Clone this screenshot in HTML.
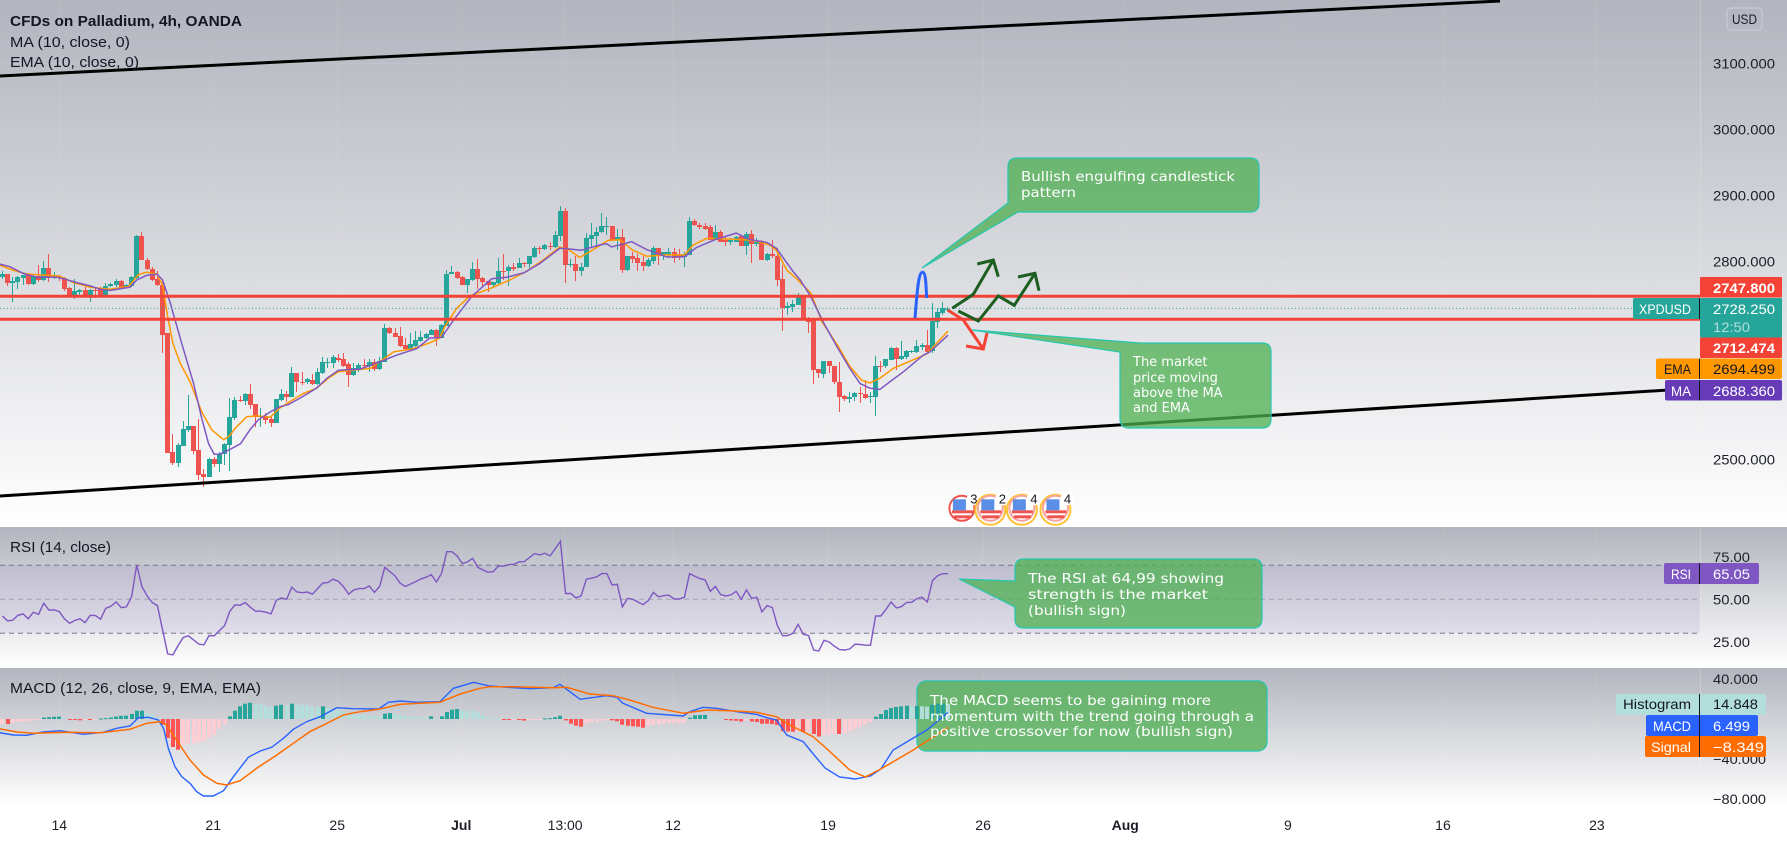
<!DOCTYPE html>
<html>
<head>
<meta charset="utf-8">
<title>CFDs on Palladium, 4h, OANDA</title>
<style>
html,body{margin:0;padding:0;background:#fff;width:1787px;height:843px;overflow:hidden}
svg{display:block}
.leg{font-family:"Liberation Sans",sans-serif;font-size:14.5px;fill:#131722}
.ax{font-family:"Liberation Sans",sans-serif;font-size:14px;fill:#1c1f28}
.lb{font-family:"Liberation Sans",sans-serif;font-size:14px;fill:#fff}
.note{font-family:"DejaVu Sans",sans-serif;font-size:13px;fill:#fff}
</style>
</head>
<body>
<svg id="chart" xmlns="http://www.w3.org/2000/svg" width="1787" height="843" viewBox="0 0 1787 843">
<defs>
<linearGradient id="paneGrad" x1="0" y1="0" x2="0" y2="1"><stop offset="0" stop-color="#b2b5be"/><stop offset="1" stop-color="#ffffff"/></linearGradient>
<clipPath id="mainClip"><rect x="0" y="0" width="1700" height="527"/></clipPath>
<clipPath id="rsiClip"><rect x="0" y="527" width="1700" height="141"/></clipPath>
<clipPath id="macdClip"><rect x="0" y="668" width="1700" height="138"/></clipPath>
</defs>

<rect x="0" y="0" width="1787" height="843" fill="#fff"/>
<rect x="0" y="0" width="1787" height="527" fill="url(#paneGrad)"/>
<rect x="0" y="527" width="1787" height="141" fill="url(#paneGrad)"/>
<rect x="0" y="668" width="1787" height="138" fill="url(#paneGrad)"/>
<line x1="1700.5" y1="0" x2="1700.5" y2="806" stroke="#fff" stroke-opacity="0.2"/>

<g id="grid"></g>

<rect x="0" y="565.3" width="1700" height="68" fill="#7e57c2" fill-opacity="0.1"/>
<line x1="0" y1="565.3" x2="1700" y2="565.3" stroke="#787b86" stroke-dasharray="5 4"/>
<line x1="0" y1="599.3" x2="1700" y2="599.3" stroke="#787b86" stroke-opacity="0.5" stroke-dasharray="5 4"/>
<line x1="0" y1="633.3" x2="1700" y2="633.3" stroke="#787b86" stroke-dasharray="5 4"/>

<g id="priceLayer" clip-path="url(#mainClip)"></g>
<g id="rsiLayer" clip-path="url(#rsiClip)"></g>

<line x1="0" y1="308.4" x2="1633" y2="308.4" stroke="#26a69a" stroke-dasharray="1 2.5"/>
<line x1="0" y1="296.3" x2="1700" y2="296.3" stroke="#f44336" stroke-width="3"/>
<line x1="0" y1="319.3" x2="1700" y2="319.3" stroke="#f44336" stroke-width="3"/>
<line x1="0" y1="76" x2="1500" y2="1" stroke="#000" stroke-width="3"/>
<line x1="0" y1="496" x2="1700" y2="388" stroke="#000" stroke-width="3"/>

<path d="M915,318 C917,295 918,272 922.7,272.3 C926,272.5 926,287 926.7,298" fill="none" stroke="#2962ff" stroke-width="3"/>
<g fill="none" stroke="#1b5e20" stroke-width="3">
<polyline points="952.3,308.3 973.3,294.3 993.3,260"/>
<polyline points="977.3,264 993.3,260 998.3,276.7"/>
</g>
<g fill="none" stroke="#1b5e20" stroke-width="3">
<polyline points="958.3,311 978.3,321 998.3,296 1014.3,305.3 1035,273.3"/>
<polyline points="1018,277 1035,273.3 1039,290.7"/>
</g>
<g fill="none" stroke="#f44336" stroke-width="3">
<polyline points="947.7,310 963.3,320 983.3,349"/>
<polyline points="966,346 983.3,349 987.3,331.7"/>
</g>

<g>
<path d="M1017,158 H1250 Q1259,158 1259,167 V203 Q1259,212 1250,212 H1018 L922,268 L1008,203 V167 Q1008,158 1017,158 Z" fill="#4caf50" fill-opacity="0.75" stroke="#26c6b0" stroke-width="1.2"/>
<text class="note" x="1021" y="181" textLength="214" lengthAdjust="spacingAndGlyphs">Bullish engulfing candlestick</text>
<text class="note" x="1021" y="197" textLength="55" lengthAdjust="spacingAndGlyphs">pattern</text>
</g>
<g>
<path d="M1140,343 H1262 Q1271,343 1271,352 V419 Q1271,428 1262,428 H1129 Q1120,428 1120,419 V352 L972,330 Z" fill="#4caf50" fill-opacity="0.75" stroke="#26c6b0" stroke-width="1.2"/>
<text class="note" x="1133" y="366">The market</text>
<text class="note" x="1133" y="382">price moving</text>
<text class="note" x="1133" y="397">above the MA</text>
<text class="note" x="1133" y="412">and EMA</text>
</g>
<g>
<path d="M1024,559 H1253 Q1262,559 1262,568 V619 Q1262,628 1253,628 H1024 Q1015,628 1015,619 V607 L959,579 L1015,581 V568 Q1015,559 1024,559 Z" fill="#4caf50" fill-opacity="0.75" stroke="#26c6b0" stroke-width="1.2"/>
<text class="note" x="1028" y="583" textLength="196" lengthAdjust="spacingAndGlyphs">The RSI at 64,99 showing</text>
<text class="note" x="1028" y="599" textLength="180" lengthAdjust="spacingAndGlyphs">strength is the market</text>
<text class="note" x="1028" y="615" textLength="98" lengthAdjust="spacingAndGlyphs">(bullish sign)</text>
</g>
<rect x="917" y="681" width="350" height="70" rx="9" fill="#4caf50" fill-opacity="0.75" stroke="#26c6b0" stroke-width="1.2"/>

<g id="macdLayer" clip-path="url(#macdClip)"></g>

<g>
<text class="note" x="930" y="705" textLength="281" lengthAdjust="spacingAndGlyphs">The MACD seems to be gaining more</text>
<text class="note" x="930" y="721" textLength="324" lengthAdjust="spacingAndGlyphs">momentum with the trend going through a</text>
<text class="note" x="930" y="736" textLength="303" lengthAdjust="spacingAndGlyphs">positive crossover for now (bullish sign)</text>
</g>

<g id="events"></g>

<g>
<text class="leg" x="10" y="26" font-weight="700" textLength="232" lengthAdjust="spacingAndGlyphs">CFDs on Palladium, 4h, OANDA</text>
<text class="leg" x="10" y="47" textLength="120" lengthAdjust="spacingAndGlyphs">MA (10, close, 0)</text>
<text class="leg" x="10" y="67" textLength="129" lengthAdjust="spacingAndGlyphs">EMA (10, close, 0)</text>
<text class="leg" x="10" y="552" textLength="101" lengthAdjust="spacingAndGlyphs">RSI (14, close)</text>
<text class="leg" x="10" y="693" textLength="251" lengthAdjust="spacingAndGlyphs">MACD (12, 26, close, 9, EMA, EMA)</text>
</g>

<g>
<rect x="1727" y="8" width="35" height="22" rx="4" fill="none" stroke="#c8ccd4" stroke-width="1.2"/>
<text class="ax" x="1732" y="24" textLength="25" lengthAdjust="spacingAndGlyphs" fill="#2a2e39">USD</text>
</g>

<g id="axes"></g>

<g>
<rect x="1700" y="277" width="82" height="20.5" rx="1" fill="#f44336"/>
<text class="lb" x="1713" y="293" textLength="62" lengthAdjust="spacingAndGlyphs" font-weight="700">2747.800</text>
</g>
<g>
<rect x="1633" y="298" width="67" height="21" rx="2" fill="#26a69a"/>
<rect x="1700" y="298" width="82" height="39.5" rx="1" fill="#26a69a"/>
<text class="lb" x="1639" y="314" textLength="52" lengthAdjust="spacingAndGlyphs">XPDUSD</text>
<text class="lb" x="1713" y="314" textLength="62" lengthAdjust="spacingAndGlyphs">2728.250</text>
<text class="lb" x="1713" y="332" textLength="37" lengthAdjust="spacingAndGlyphs" style="fill:#b2dfdb">12:50</text>
<line x1="1699.5" y1="298" x2="1699.5" y2="319" stroke="#131722"/>
</g>
<g>
<rect x="1700" y="337.5" width="82" height="20.5" rx="1" fill="#f44336"/>
<text class="lb" x="1713" y="353" textLength="62" lengthAdjust="spacingAndGlyphs" font-weight="700">2712.474</text>
</g>
<g>
<rect x="1656" y="358.5" width="126" height="20.5" rx="2" fill="#ff9800"/>
<text class="lb" x="1664" y="374" textLength="27" lengthAdjust="spacingAndGlyphs" style="fill:#131722">EMA</text>
<text class="lb" x="1713" y="374" textLength="62" lengthAdjust="spacingAndGlyphs" style="fill:#131722">2694.499</text>
<line x1="1699.5" y1="358.5" x2="1699.5" y2="379" stroke="#131722"/>
</g>
<g>
<rect x="1665" y="380" width="117" height="20.5" rx="2" fill="#673ab7"/>
<text class="lb" x="1671" y="396" textLength="20" lengthAdjust="spacingAndGlyphs">MA</text>
<text class="lb" x="1713" y="396" textLength="62" lengthAdjust="spacingAndGlyphs">2688.360</text>
<line x1="1699.5" y1="380" x2="1699.5" y2="400.5" stroke="#131722"/>
</g>
<g>
<rect x="1664" y="563" width="95" height="21" rx="2" fill="#7e57c2"/>
<text class="lb" x="1671" y="579" textLength="20" lengthAdjust="spacingAndGlyphs">RSI</text>
<text class="lb" x="1713" y="579" textLength="37" lengthAdjust="spacingAndGlyphs">65.05</text>
<line x1="1699.5" y1="563" x2="1699.5" y2="584" stroke="#131722"/>
</g>
<g>
<rect x="1616" y="694" width="150" height="21" rx="2" fill="#b2dfdb"/>
<text class="lb" x="1623" y="709" textLength="68" lengthAdjust="spacingAndGlyphs" style="fill:#131722">Histogram</text>
<text class="lb" x="1713" y="709" textLength="45" lengthAdjust="spacingAndGlyphs" style="fill:#131722">14.848</text>
<line x1="1699.5" y1="694" x2="1699.5" y2="715" stroke="#131722"/>
</g>
<g>
<rect x="1646" y="715" width="112" height="21" rx="2" fill="#2962ff"/>
<text class="lb" x="1653" y="731" textLength="38" lengthAdjust="spacingAndGlyphs">MACD</text>
<text class="lb" x="1713" y="731" textLength="37" lengthAdjust="spacingAndGlyphs">6.499</text>
<line x1="1699.5" y1="715" x2="1699.5" y2="736" stroke="#131722"/>
</g>
<g>
<rect x="1645" y="736" width="121" height="21" rx="2" fill="#ff6d00"/>
<text class="lb" x="1651" y="752" textLength="40" lengthAdjust="spacingAndGlyphs">Signal</text>
<text class="lb" x="1713" y="752" textLength="51" lengthAdjust="spacingAndGlyphs">−8.349</text>
<line x1="1699.5" y1="736" x2="1699.5" y2="757" stroke="#131722"/>
</g>
</svg>

<script>
/* candle data, one entry per 4h bar */
var opens = [
2777,2781,2768,2769,2775,2779,2766,2778,2772,2790,
2775,2778,2775,2760,2749,2754,2757,2748,2757,2758,
2749,2763,2764,2770,2762,2763,2775,2839,2803,2789,
2773,2764,2691,2511,2495,2521,2545,2551,2514,2478,
2473,2501,2493,2508,2522,2563,2590,2588,2599,2584,
2564,2566,2562,2555,2590,2599,2595,2631,2618,2618,
2621,2614,2631,2646,2646,2654,2652,2644,2628,2637,
2643,2641,2647,2637,2648,2699,2691,2687,2673,2667,
2672,2680,2684,2689,2696,2684,2703,2781,2784,2776,
2765,2772,2789,2775,2770,2764,2768,2786,2785,2792,
2790,2798,2796,2807,2820,2819,2823,2822,2839,2876,
2795,2796,2786,2791,2834,2839,2844,2853,2854,2833,
2837,2787,2808,2805,2799,2793,2801,2820,2810,2812,
2814,2810,2807,2810,2861,2856,2854,2852,2833,2845,
2832,2830,2830,2838,2823,2841,2827,2829,2802,2812,
2809,2773,2730,2731,2734,2749,2715,2713,2637,2630,
2649,2642,2618,2596,2591,2594,2601,2599,2594,2595,
2642,2641,2651,2669,2653,2655,2663,2663,2671,2674,
2664,2709,2722,2727.5];
var highs = [
2785,2781,2776,2778,2780,2782,2779,2795,2801,2811,
2784,2779,2777,2762,2774,2759,2762,2758,2761,2762,
2768,2768,2773,2772,2766,2778,2840,2845,2805,2791,
2785,2769,2691,2539,2525,2559,2598,2551,2562,2485,
2503,2504,2512,2525,2593,2595,2596,2601,2614,2584,
2578,2570,2565,2591,2607,2604,2640,2631,2633,2624,
2630,2639,2656,2654,2658,2660,2661,2648,2646,2646,
2652,2653,2653,2655,2705,2701,2699,2701,2684,2692,
2695,2695,2692,2697,2697,2705,2787,2793,2786,2778,
2773,2799,2804,2776,2770,2769,2805,2812,2795,2798,
2806,2799,2808,2823,2824,2826,2830,2846,2884,2881,
2804,2808,2797,2843,2858,2853,2874,2868,2854,2850,
2849,2808,2814,2812,2808,2805,2824,2820,2815,2820,
2820,2819,2815,2867,2865,2858,2858,2855,2856,2847,
2838,2835,2839,2839,2844,2847,2836,2833,2813,2832,
2820,2795,2739,2742,2753,2749,2716,2713,2637,2649,
2649,2642,2647,2597,2603,2603,2610,2620,2603,2657,
2650,2653,2671,2671,2680,2666,2666,2681,2676,2696,
2737,2729,2738,2731];
var lows = [
2774,2763,2738,2759,2764,2764,2764,2769,2771,2769,
2773,2771,2756,2746,2743,2747,2746,2739,2744,2746,
2749,2761,2762,2759,2760,2762,2774,2802,2787,2771,
2763,2662,2510,2492,2489,2521,2541,2509,2469,2459,
2473,2488,2481,2492,2483,2560,2587,2582,2576,2550,
2550,2554,2549,2555,2589,2587,2594,2603,2613,2615,
2613,2613,2630,2638,2638,2648,2640,2610,2627,2633,
2638,2633,2634,2635,2648,2690,2685,2671,2666,2665,
2671,2678,2683,2688,2672,2684,2703,2781,2774,2764,
2753,2771,2759,2761,2754,2761,2764,2772,2763,2786,
2790,2792,2790,2806,2812,2818,2817,2821,2831,2768,
2791,2771,2778,2791,2822,2821,2843,2840,2832,2817,
2782,2785,2797,2786,2786,2792,2796,2795,2802,2805,
2798,2802,2792,2810,2854,2849,2848,2832,2832,2830,
2824,2825,2829,2823,2810,2798,2823,2802,2801,2805,
2763,2695,2719,2724,2734,2713,2691,2614,2623,2623,
2631,2615,2572,2589,2586,2588,2585,2591,2585,2566,
2633,2638,2651,2636,2651,2652,2662,2662,2666,2661,
2661,2699,2719,2725];
var closes = [
2781,2768,2770,2776,2779,2766,2778,2772,2790,2776,
2778,2775,2759,2749,2755,2757,2748,2757,2756,2749,
2763,2766,2770,2762,2764,2776,2839,2802,2788,2772,
2764,2688,2510,2494,2522,2546,2551,2513,2476,2473,
2501,2493,2509,2523,2564,2590,2588,2599,2583,2565,
2566,2560,2555,2591,2599,2594,2631,2618,2617,2622,
2614,2632,2647,2648,2656,2651,2642,2628,2639,2643,
2642,2647,2637,2649,2699,2691,2686,2672,2667,2675,
2681,2685,2690,2696,2684,2704,2781,2784,2775,2765,
2773,2789,2774,2769,2764,2769,2786,2784,2792,2789,
2798,2796,2808,2820,2819,2825,2822,2840,2876,2795,
2796,2786,2792,2835,2840,2845,2854,2854,2833,2837,
2787,2808,2804,2798,2793,2802,2820,2809,2814,2814,
2806,2807,2811,2861,2855,2852,2850,2833,2845,2830,
2830,2833,2837,2823,2841,2826,2829,2802,2812,2808,
2772,2730,2733,2735,2749,2713,2709,2636,2631,2649,
2641,2618,2595,2591,2595,2601,2599,2593,2596,2642,
2640,2652,2669,2653,2657,2664,2665,2672,2674,2663,
2710,2723,2729,2728.25];

/* moving averages: bar number and value at each visible line vertex */
var maBars = [-1,1.5,4,6.6,10.5,11.8,14.4,17,18.9,20.8,24.7,26,27.9,29.9,31,32.5,34.7,37,38.6,39.9,41,42.1,44,46.1,47.9,49.5,51.8,53.7,55.3,57.6,60.8,62.8,65,66.6,69.2,72.4,76.3,80.2,82.7,85,87.3,90.8,94.7,97.6,101,104,107.9,109.8,112,115.6,116.9,117.9,121.8,124.7,128.5,132,134.3,137.9,142,144.7,147.9,149.8,153,154.4,156.3,159,161.5,164,166,167.9,169.8,171.8,174.4,178.2,179.5,183];
var maValues = [2797,2792,2782,2776,2776,2774,2768,2763,2758,2756,2761,2772,2779,2781,2772,2737,2676,2615,2562,2524,2508,2508,2515,2524,2545,2560,2572,2580,2583,2593,2608,2623,2635,2636,2637,2646,2658,2668,2684,2685,2711,2747,2774,2776,2783,2797,2820,2819,2817,2825,2827,2822,2830,2818,2807,2807,2821,2833,2843,2833,2829,2820,2785,2772,2749,2706,2671,2638,2615,2608,2606,2618,2633,2658,2663,2688.36];
var emaBars = [-1,2,4.7,11,13.7,17,20.8,24.4,26.3,27.9,29.9,31,32,33,34.4,36.3,38.6,40.5,42.8,44,45,47.3,49.5,51.8,53.7,55.7,58.2,60.8,63.1,65,67.3,71.2,75.7,79.5,82.8,84.6,85.6,87.9,90.5,94.4,98.2,101.4,104.6,107.9,109.8,111.7,113.7,117.2,119.5,122,124.7,128.5,132,133.7,136.3,141.4,145.3,148.5,149.8,151.8,153.7,156.5,158.6,161.8,164,166.3,167.9,169.8,172.4,176.3,178.9,180.8,183];
var emaValues = [2796,2787,2781,2778,2768,2761,2758,2762,2780,2784,2781,2764,2716,2676,2646,2618,2572,2545,2530,2536,2547,2565,2566,2564,2578,2588,2600,2608,2623,2633,2635,2638,2663,2668,2677,2684,2701,2729,2748,2759,2772,2785,2802,2822,2817,2806,2815,2832,2833,2817,2808,2810,2810,2825,2835,2834,2832,2825,2817,2787,2774,2752,2709,2671,2641,2620,2616,2623,2638,2651,2660,2676,2694.5];

/* RSI, one value per bar */
var rsiValues = [
40.2,37.3,37.7,40.6,41.4,38.5,42.4,41.2,47.7,43.7,
43.7,42.8,38.5,35.9,37.5,38.5,36.3,40.6,40.4,38.3,
44.7,45.9,48.4,45.1,45.5,51.6,70.2,57.5,52,48.1,
46.3,32,17.9,17.3,22.8,27.5,28.5,26.1,23.7,23.2,
28.7,28.5,31.6,34.5,42.8,46.7,46.5,48.1,45.3,43,
43,42.4,41.4,49.4,50.8,50,57.1,54.3,53.9,54.3,
53,56.3,59.6,59.8,61.8,60.6,57.5,53,55.5,56.3,
56.3,57.8,54.1,57.5,68.8,66.3,63.7,59.4,57.5,59,
60.4,62,63,64.5,60.2,65.3,78,78,75.5,71,72,74.1,68.8,
67.3,65.9,66.3,69.6,69.6,70.4,70.6,72,72.2,74.5,
76.9,76.1,77.1,75.5,79.8,84.1,53.4,53.4,50.8,52,
61.8,62.4,63.2,65.1,65.1,58.4,58.8,45.5,50.6,50,
48.4,46.9,49.2,54.1,51.4,52.2,52.4,50.2,50.2,51.2,
65.1,63.5,62.2,61.4,54.7,57.5,52.8,52,52.6,54.7,
50,55.5,50.6,51.2,42.6,46.3,45.1,34.5,28.5,28.7,
30,35.3,29.4,28.7,20.2,19.6,25.9,24.9,22.4,20.4,
20.2,20.8,23.6,23.4,23,23,40.2,40.2,44.1,48.4,
44.9,45.7,48.1,48.3,50.4,51.2,48.4,61,63.9,65.05,65.05];

/* MACD histogram, one value per bar */
var histValues = [
-4.7,-5,-4,-3,-2.5,-2,-1.5,-0.8,1.5,1.8,
2.2,2.4,0.8,-0.1,-0.5,-1.3,-0.6,-1,-0.3,0.5,
0.8,1.5,2.5,3.2,3.3,5,8.3,8.4,6,4.3,
2,-5.7,-19,-28,-30.7,-26,-24.7,-24.5,-23.3,-21.7,
-18.7,-16,-10,-5.7,2.7,8.3,12.7,15.3,16.3,15.3,
14.7,13.3,12,13.3,14.3,13.3,15.3,14.7,14.3,13.7,
12.7,12.3,12.7,11.7,10.3,9.3,7.7,6,5.3,4.3,
4,3.3,2.7,2.3,5.3,6,5.7,3.7,3,2.3,
2,1.7,1.3,2.7,0.7,2.7,7,9.3,10,8.7,
8.3,8,6.7,4,1.7,1,0.7,-0.5,-0.6,-0.6,
-0.8,-1.6,-1,-0.7,-0.4,0.6,0.8,1.8,3.3,-1.4,
-4.7,-6.7,-7.7,-4.7,-3.3,-2.7,-1.7,-0.7,-1.3,-2.3,
-5.7,-6.7,-7.3,-7.7,-8.7,-6.7,-5.7,-5.3,-4.7,-4,
-3.9,-3.8,-3.7,1.3,3.7,4,4.1,2,1.3,0.7,
-0.5,-1.5,-1.8,-2.5,-1.5,-2.5,-3,-4.7,-4.8,-5,
-6,-12.3,-12.5,-12.7,-12,-13,-12.5,-15,-17.5,-16,
-15.5,-14.5,-15,-14,-12,-10,-8,-5.5,-3,2.3,
5,9,11,12,12.7,13.3,13,13,12.7,12.3,
14.3,15.3,15.5,14.85];

/* MACD and signal lines: bar number and value at each vertex */
var macdBars = [-1,2.1,4.7,7.9,11.2,15.7,19.5,22.1,24.7,26.3,28.3,30.2,31.2,32.1,33.4,34.7,36.3,37.6,38.9,40.8,42.8,44.7,47.6,49.9,52.1,54.4,56.3,58.9,61.5,64.7,67.9,72.8,74.7,77,80.2,84.7,87.3,91.2,94.3,98.9,102,106.6,107.9,111.8,116.9,118.9,120.1,124.7,131.8,133,135.6,138.2,143.4,145.9,147.9,149.8,151.8,155,156.3,159.2,162,165,168,170,172.4,178.9,183];
var macdValues = [-13.3,-16,-16.3,-13,-11.7,-15.3,-13.3,-9.3,-7,1.3,1.7,-1,-9.3,-29.3,-47.7,-57.7,-64.3,-72.7,-77,-77,-71.7,-57.7,-38.3,-32,-28.3,-19.3,-10.3,-2.7,2.3,11.3,10.3,10,16.7,18,16.7,17.3,30.7,36.7,33,31.3,30.3,31.3,34.7,19.7,23.3,21.7,15.7,5.7,3,7.3,11.7,10.7,6.3,4.7,1.3,-1,-16,-22.7,-31,-49,-58,-60,-57,-50,-31,-11,6.5];
var signalBars = [-1,2.8,6,12.5,18.9,24.7,27.9,30.5,31.8,33.7,36.3,38.9,41.5,43.4,46,49.2,53.1,56.3,59.5,62.8,66,69.2,72.8,77,84.7,88.6,92.4,94.3,98.9,106.6,109.2,113.7,118.2,121.4,125.9,131.8,136.3,140.8,145.9,149.8,152.4,156.9,159.8,164,167,170,176.3,183];
var signalValues = [-9.3,-13,-14.3,-13.3,-13.7,-10.3,-4.3,-2.7,-6,-21,-41,-56,-64.3,-66,-61.7,-49.3,-36,-24.3,-12.7,-4.3,4,7.3,9.7,14.7,16.7,25,30.7,32.3,32.3,31.3,31.7,25,23.3,19,11.7,5.7,9,8.3,6.7,2.3,-6,-17.7,-31,-51,-58,-50,-31,-8.35];

/* axis ticks */
var priceTicks = [3100,3000,2900,2800,2500];
var priceTickLabels = ["3100.000","3000.000","2900.000","2800.000","2500.000"];
var rsiTicks = [75,50,25];
var rsiTickLabels = ["75.00","50.00","25.00"];
var macdTicks = [40,-40,-80];
var macdTickLabels = ["40.000","−40.000","−80.000"];
var timeTickBars = [11,40.8,64.8,88.8,108.9,129.8,159.8,189.8,217.3,248.8,278.8,308.6];
var timeTickLabels = ["14","21","25","Jul","13:00","12","19","26","Aug","9","16","23"];
var timeTickBold = ["Jul","Aug"];
var eventBars = [185.7,191.2,197.3,203.8];
var eventCounts = ["3","2","4","4"];

var NS = "http://www.w3.org/2000/svg";
function xBar(i){ return 2.4 + 5.167*i; }
function yPrice(p){ return 261.5 + (2800-p)*0.66; }
function yRsi(v){ return 599.3 + (50-v)*1.7; }
function yMacd(v){ return 719 - v*1.0; }
function mk(tag, parent){ var e = document.createElementNS(NS, tag); parent.appendChild(e); return e; }
function setA(e, o){ for (var k in o) e.setAttribute(k, o[k]); }
function pts(bars, vals, yf){ return bars.map(function(b, j){ return xBar(b).toFixed(1) + "," + yf(vals[j]).toFixed(1); }).join(" "); }

var priceLayer = document.getElementById("priceLayer");
var rsiLayer = document.getElementById("rsiLayer");
var macdLayer = document.getElementById("macdLayer");
var grid = document.getElementById("grid");
var axes = document.getElementById("axes");
var eventsG = document.getElementById("events");

/* grid */
timeTickBars.forEach(function(b){
  var g = mk("line", grid);
  
  
  setA(g, {x1:xBar(b), x2:xBar(b), y1:0, y2:806, stroke:"#fff", "stroke-opacity":0.09});
});
priceTicks.forEach(function(p){
  var g = mk("line", grid);
  
  
  setA(g, {x1:0, x2:1706, y1:yPrice(p), y2:yPrice(p), stroke:"#fff", "stroke-opacity":0.09});
});

/* candles, snapped to whole pixels */
opens.forEach(function(o, i){
  var c = closes[i], up = c >= o, col = up ? "#26a69a" : "#ef5350";
  var left = Math.round(xBar(i) - 2.5);
  var top = Math.round(yPrice(Math.max(o,c))), bottom = Math.round(yPrice(Math.min(o,c)));
  var hi = Math.round(yPrice(highs[i])), lo = Math.round(yPrice(lows[i]));
  var wick = mk("rect", priceLayer);
  
  
  setA(wick, {x:left+2, y:hi, width:1, height:Math.max(1, lo-hi), fill:col});
  var body = mk("rect", priceLayer);
  
  
  setA(body, {x:left, y:top, width:5, height:Math.max(1, bottom-top), fill:col});
});

/* MA / EMA */
var emaLine = mk("polyline", priceLayer);


setA(emaLine, {points:pts(emaBars, emaValues, yPrice), fill:"none", stroke:"#ff9800", "stroke-width":1.5});
var maLine = mk("polyline", priceLayer);


setA(maLine, {points:pts(maBars, maValues, yPrice), fill:"none", stroke:"#7e57c2", "stroke-width":1.5});

/* RSI */
var rsiLine = mk("polyline", rsiLayer);


setA(rsiLine, {points:pts(rsiValues.map(function(v,i){return i;}), rsiValues, yRsi), fill:"none", stroke:"#7e57c2", "stroke-width":1.4});

/* MACD histogram */
histValues.forEach(function(v, i){
  var prev = i ? histValues[i-1] : v, col;
  if (v >= 0) col = v >= prev ? "#26a69a" : "#b2dfdb";
  else col = v < prev ? "#ff5252" : "#ffcdd2";
  var y0 = yMacd(0), y1 = yMacd(v);
  var bar = mk("rect", macdLayer);
  
  
  setA(bar, {x:Math.round(xBar(i)-2), y:Math.min(y0,y1), width:4, height:Math.max(1, Math.abs(y1-y0)), fill:col});
});
var macdLine = mk("polyline", macdLayer);


setA(macdLine, {points:pts(macdBars, macdValues, yMacd), fill:"none", stroke:"#2962ff", "stroke-width":1.4});
var signalLine = mk("polyline", macdLayer);


setA(signalLine, {points:pts(signalBars, signalValues, yMacd), fill:"none", stroke:"#ff6d00", "stroke-width":1.5});

/* axis labels */
function axisText(txt, x, y, w){
  var t = mk("text", axes);
  t.setAttribute('class', 'ax');
  setA(t, {x:x, y:y, textLength:w, lengthAdjust:"spacingAndGlyphs"});
  t.textContent = txt;
  return t;
}
priceTicks.forEach(function(p, j){
  var t = axisText(priceTickLabels[j], 1713, yPrice(p)+5, 62);
  
  
});
rsiTicks.forEach(function(v, j){
  var t = axisText(rsiTickLabels[j], 1713, yRsi(v)+5, 37);
  
  
});
macdTicks.forEach(function(v, j){
  var t = axisText(macdTickLabels[j], 1713, yMacd(v)+5, macdTickLabels[j].length > 6 ? 53 : 45);
  
  
});
timeTickBars.forEach(function(b, j){
  var t = mk("text", axes);
  t.setAttribute('class', 'ax');
  
  
  setA(t, {x:xBar(b), y:830, "text-anchor":"middle"});
  if (timeTickBold.indexOf(timeTickLabels[j]) >= 0) t.setAttribute("font-weight", "700");
  t.textContent = timeTickLabels[j];
});

/* economic event markers */
eventBars.forEach(function(b, j){
  var cx = xBar(b), cy = 508.3;
  var g = mk("g", eventsG);
  
  
  if (j > 0) {
    var a = mk("circle", g);
    setA(a, {cx:cx, cy:cy+1.5, r:15, fill:"none", stroke:"#ffc233", "stroke-width":2});
  }
  var c = mk("circle", g);
  setA(c, {cx:cx, cy:cy, r:12.5, fill:"#fff", stroke:j ? "#f6a5a0" : "#ef5350", "stroke-width":2});
  var s1 = mk("rect", g);
  setA(s1, {x:cx-10, y:cy+2, width:21, height:3, fill:"#ef5350"});
  var s2 = mk("rect", g);
  setA(s2, {x:cx-8, y:cy+7, width:17, height:3, fill:"#ef5350"});
  var u = mk("rect", g);
  setA(u, {x:cx-9, y:cy-9, width:13, height:11, fill:"#5b8ee6"});
  var w = mk("circle", g);
  setA(w, {cx:cx+12, cy:cy-10, r:7, fill:"#fff"});
  var n = mk("text", g);
  setA(n, {x:cx+12, y:cy-5, "text-anchor":"middle", fill:"#131722", "font-size":"13", "font-family":"Liberation Sans, sans-serif"});
  n.textContent = eventCounts[j];
});
</script>
</body>
</html>
